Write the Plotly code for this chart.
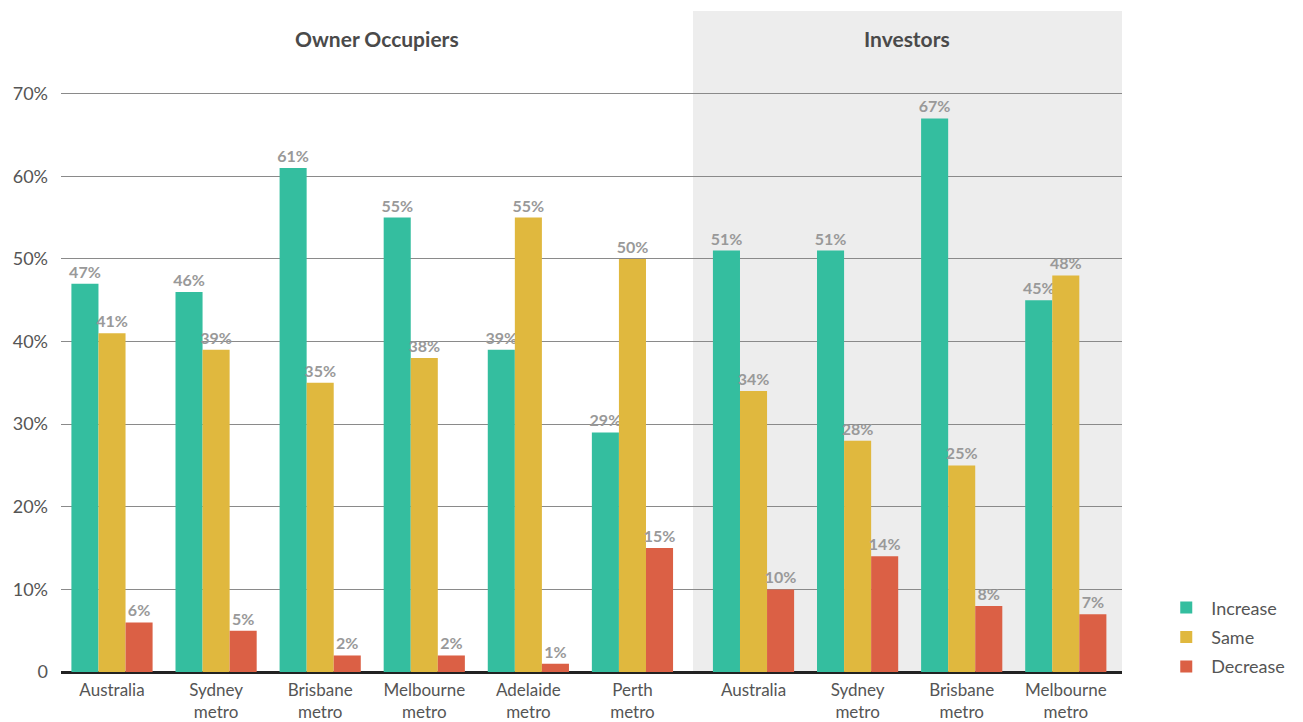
import plotly.graph_objects as go

# Survey expectations by market and buyer type
owner_regions = ["Australia", "Sydney<br>metro", "Brisbane<br>metro", "Melbourne<br>metro",
                 "Adelaide<br>metro", "Perth<br>metro"]
investor_regions = ["Australia", "Sydney<br>metro", "Brisbane<br>metro", "Melbourne<br>metro"]

owner_increase = [47, 46, 61, 55, 39, 29]
owner_same = [41, 39, 35, 38, 55, 50]
owner_decrease = [6, 5, 2, 2, 1, 15]

investor_increase = [51, 51, 67, 45]
investor_same = [34, 28, 25, 48]
investor_decrease = [10, 14, 8, 7]

y_ticks = [0, 10, 20, 30, 40, 50, 60, 70]
y_tick_labels = ["0", "10%", "20%", "30%", "40%", "50%", "60%", "70%"]

series_names = ["Increase", "Same", "Decrease"]
colors = ["#34be9f", "#e0b83e", "#db6045"]

# Numeric category positions with a wider gap between the two panels
panel_gap = 0.163
owner_x = list(range(len(owner_regions)))
investor_start = len(owner_regions) + panel_gap
investor_x = [investor_start + i for i in range(len(investor_regions))]
all_x = owner_x + investor_x
all_labels = owner_regions + investor_regions

values = [
    owner_increase + investor_increase,
    owner_same + investor_same,
    owner_decrease + investor_decrease,
]

FONT = "Lato, 'Open Sans', sans-serif"

fig = go.Figure()
for name, color, vals in zip(series_names, colors, values):
    fig.add_trace(go.Bar(
        name=name,
        legendgroup=name,
        x=all_x,
        y=vals,
        marker=dict(color=color, line=dict(width=0)),
        text=[f"{v}%" for v in vals],
        textposition="outside",
        constraintext="none",
        textfont=dict(family=FONT, size=16, color="#999999", weight="bold"),
        cliponaxis=False,
    ))

divider = (owner_x[-1] + investor_x[0]) / 2
x_min = -0.49
x_max = investor_x[-1] + 0.54

# Shaded background for the investors panel
fig.add_shape(type="rect", xref="x", yref="y", x0=divider, x1=x_max, y0=0, y1=80,
              fillcolor="#ededed", line=dict(width=0), layer="below")

fig.add_annotation(x=(x_min + divider) / 2, y=1.0, xref="x", yref="paper",
                   yanchor="top", yshift=-13, text="<b>Owner Occupiers</b>", showarrow=False,
                   font=dict(family=FONT, size=21, color="#4a4a4a"))
fig.add_annotation(x=(divider + x_max) / 2, y=1.0, xref="x", yref="paper",
                   yanchor="top", yshift=-13, text="<b>Investors</b>", showarrow=False,
                   font=dict(family=FONT, size=21, color="#4a4a4a"))

fig.update_layout(
    width=1303, height=722,
    margin=dict(l=61, r=181, t=11, b=50, autoexpand=False),
    paper_bgcolor="white",
    plot_bgcolor="white",
    barmode="group",
    bargap=0.22,
    bargroupgap=0,
    font=dict(family=FONT, size=18, color="#555555"),
    legend=dict(x=1.037, y=0.125, xanchor="left", yanchor="top",
                font=dict(family=FONT, size=18, color="#555555"),
                tracegroupgap=3, itemwidth=40, bgcolor="rgba(0,0,0,0)"),
    xaxis=dict(
        range=[x_min, x_max], automargin=False,
        tickmode="array", tickvals=all_x, ticktext=all_labels,
        showgrid=False, zeroline=False, showline=False,
        ticks="", ticklabelstandoff=6,
        tickfont=dict(family=FONT, size=17, color="#555555"),
    ),
    yaxis=dict(
        range=[0, 80], automargin=False,
        tickmode="array", tickvals=y_ticks, ticktext=y_tick_labels,
        showgrid=True, gridcolor="#8a8a8a", gridwidth=1,
        zeroline=True, zerolinecolor="#222222", zerolinewidth=3,
        showline=False, ticks="", ticklabelstandoff=12,
        tickfont=dict(family=FONT, size=18, color="#555555"),
    ),
)

fig.write_html("out.html")
